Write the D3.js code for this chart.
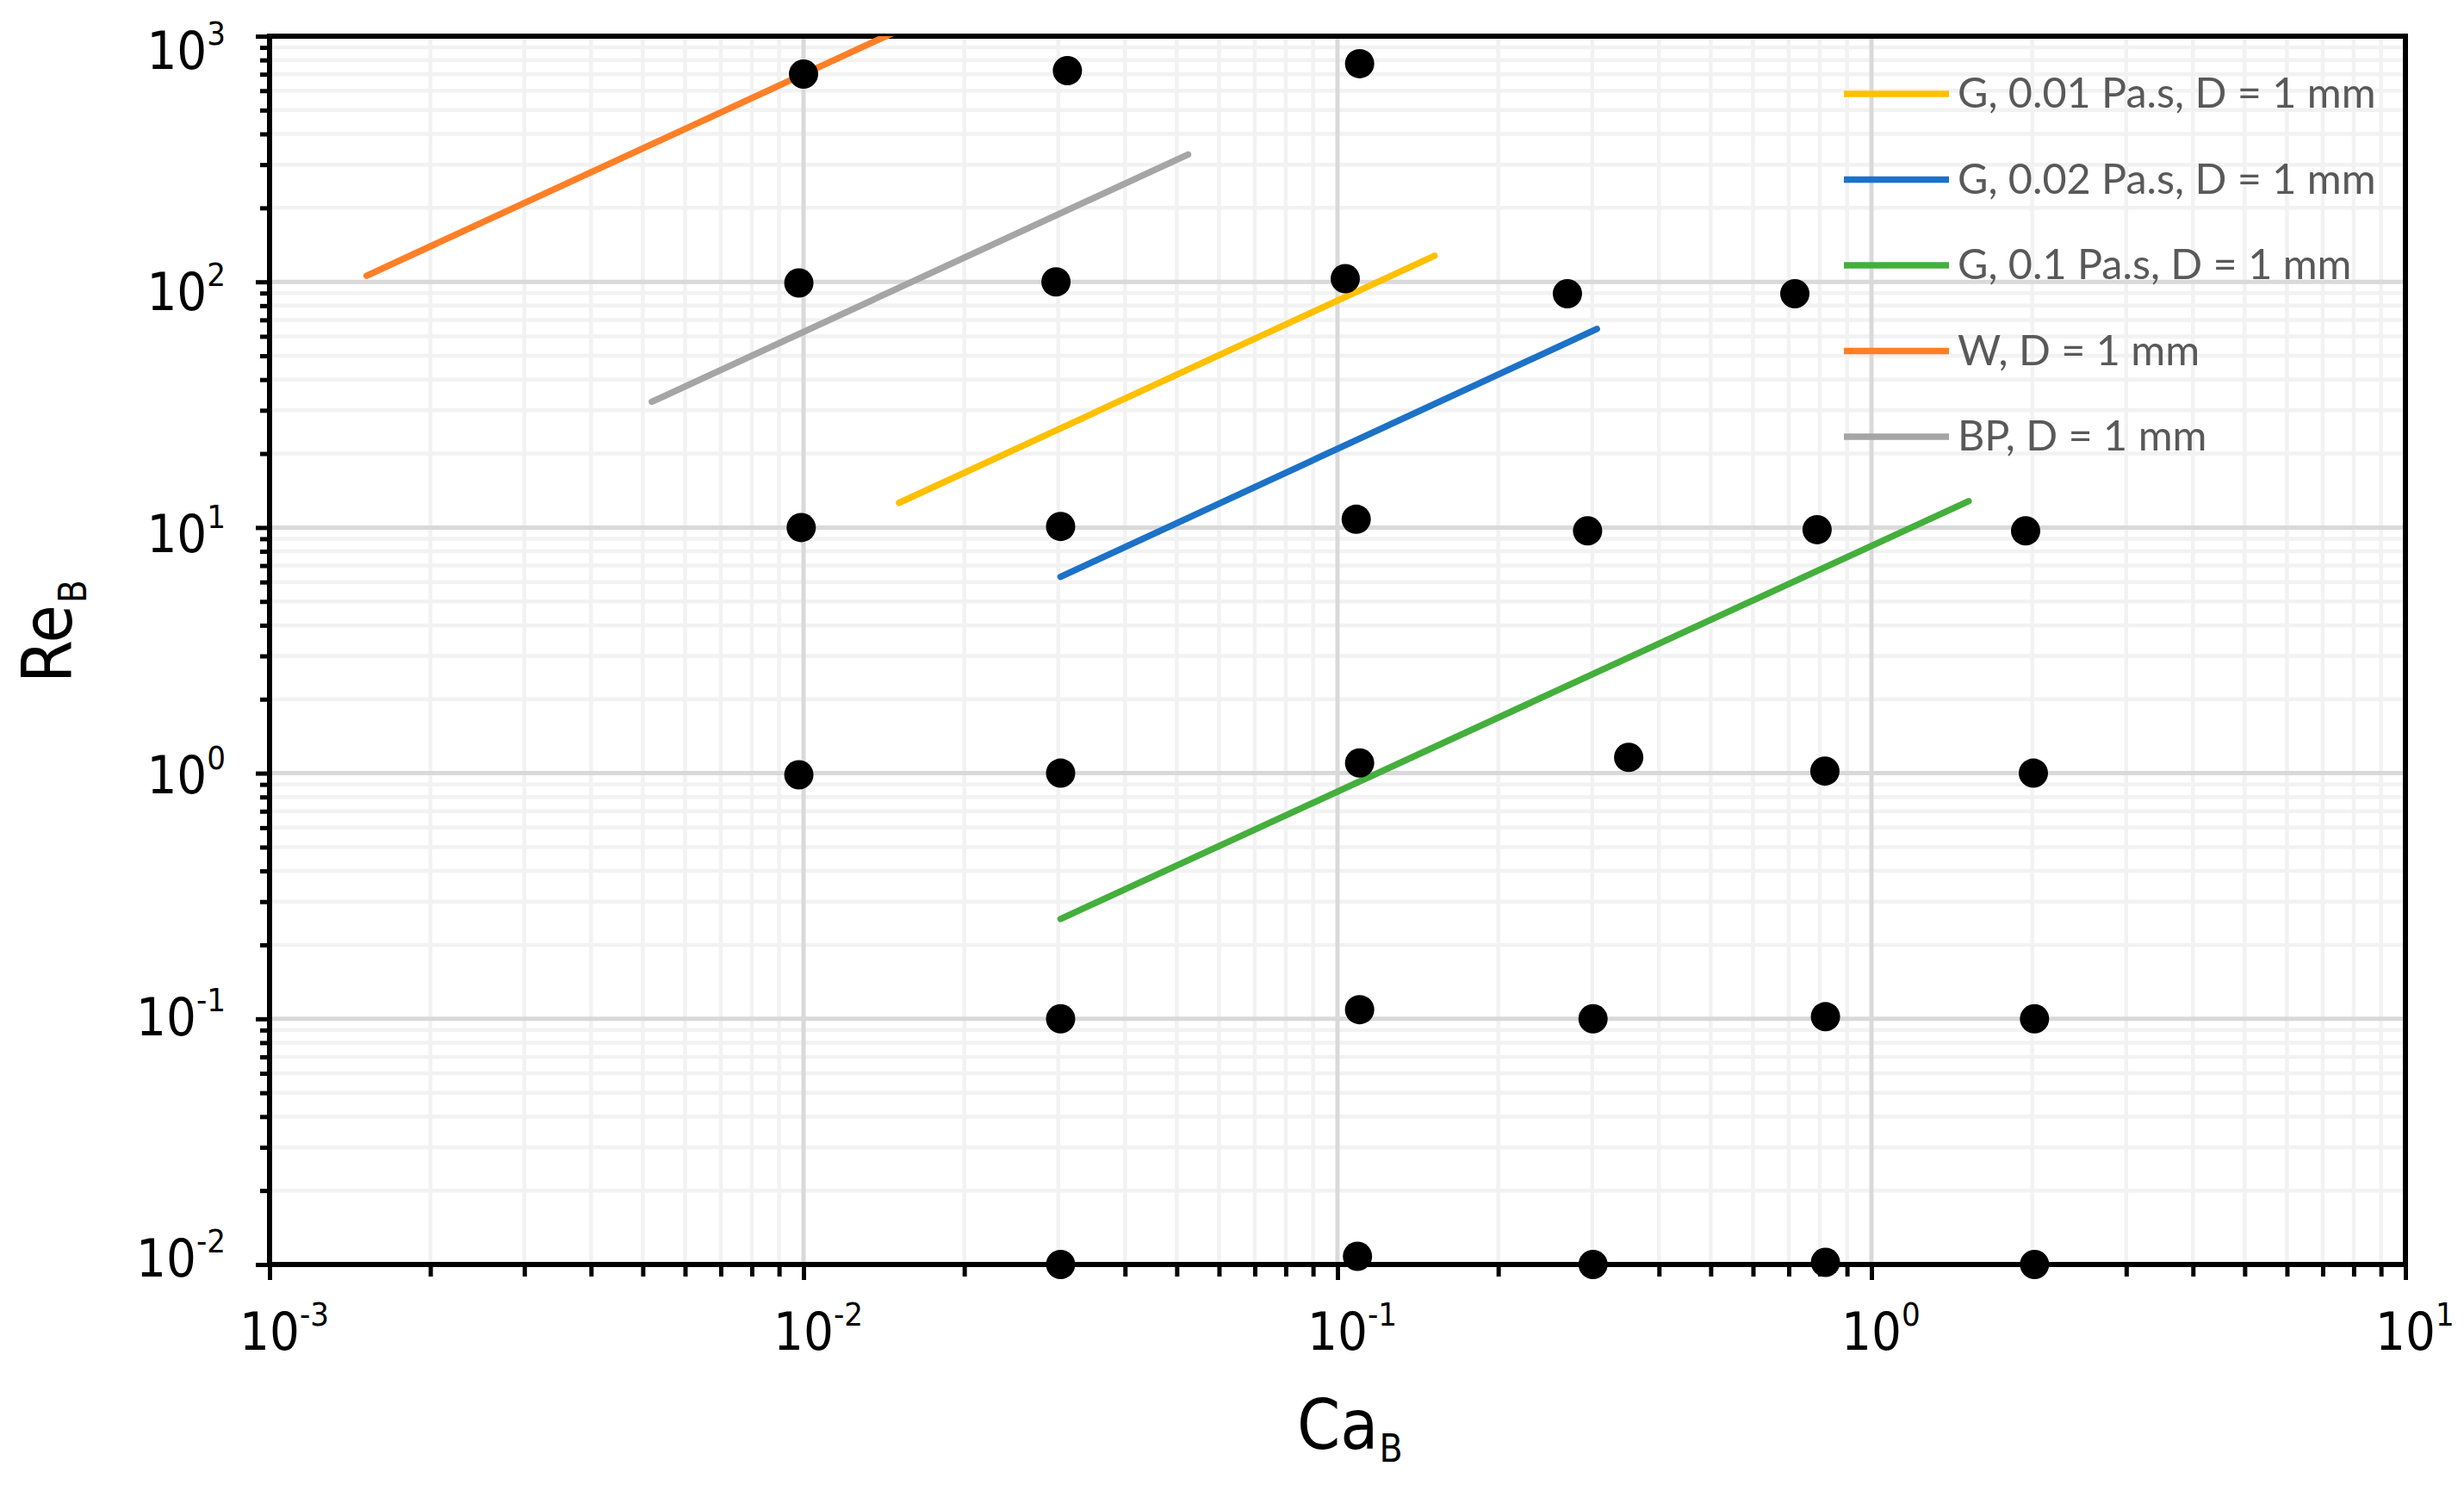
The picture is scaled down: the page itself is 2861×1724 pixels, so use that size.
<!DOCTYPE html>
<html>
<head>
<meta charset="utf-8">
<script src="https://cdn.jsdelivr.net/npm/d3@7"></script>
<style>
  body { margin: 0; background: #fff; }
</style>
</head>
<body>
<div id="chart"></div>
<script>
// Data
const pointCa = [0.0100, 0.0098, 0.0099, 0.0098,
                 0.0312, 0.0297, 0.0303, 0.0303, 0.0303, 0.0303,
                 0.110, 0.1034, 0.1084, 0.110, 0.110, 0.109,
                 0.2695, 0.294, 0.351, 0.301, 0.301,
                 0.7186, 0.791, 0.818, 0.82, 0.82,
                 1.944, 2.01, 2.02, 2.02]
const pointRe = [701, 99, 10, 0.985,
                 724, 100, 10.1, 1.0, 0.1, 0.01,
                 773, 103, 10.8, 1.10, 0.109, 0.0108,
                 89.4, 9.7, 1.16, 0.1, 0.01,
                 89.4, 9.8, 1.02, 0.102, 0.0102,
                 9.7, 1.0, 0.1, 0.01]

const seriesNames = ["G, 0.01 Pa.s, D = 1 mm", "G, 0.02 Pa.s, D = 1 mm", "G, 0.1 Pa.s, D = 1 mm", "W, D = 1 mm", "BP, D = 1 mm"]
const seriesColors = ["#FFC000", "#1C72C7", "#44AF3C", "#FF7F27", "#A5A5A5"]
// start / end of each straight line
const seriesCa = [[0.0151, 0.152], [0.0303, 0.306], [0.0303, 1.52], [0.00152, 0.0152], [0.0052, 0.0525]]
const seriesRe = [[12.6, 127.7], [6.3, 64.3], [0.255, 12.8], [105.9, 1065], [32.5, 330]]

const xTicks = [1e-3, 1e-2, 1e-1, 1, 10]
const xTickExp = ["-3", "-2", "-1", "0", "1"]
const yTicks = [1e-2, 1e-1, 1, 10, 100, 1000]
const yTickExp = ["-2", "-1", "0", "1", "2", "3"]

function generateChart() {
  let width = 2861
  let height = 1724
  let margin = ({top: 42, right: 68, bottom: 256, left: 313})

  let x = d3.scaleLog().domain([1e-3, 10]).range([margin.left, width - margin.right])
  let y = d3.scaleLog().domain([1e-2, 1e3]).range([height - margin.bottom, margin.top])

  // minor values 2..9 in each decade
  let minors = ticks => d3.range(ticks.length - 1).flatMap(i => d3.range(2, 10).map(m => m * ticks[i]))
  let xMinor = minors(xTicks)
  let yMinor = minors(yTicks)

  const svg = d3.select("#chart").append("svg")
    .attr("width", width)
    .attr("height", height)
    .attr("viewBox", [0, 0, width, height])
    .style("background", "white")

  svg.append("defs").append("clipPath").attr("id", "plot")
    .append("rect")
    .attr("x", margin.left).attr("y", margin.top)
    .attr("width", width - margin.left - margin.right)
    .attr("height", height - margin.top - margin.bottom)

  // grid
  const grid = svg.append("g")
  grid.selectAll(".vminor").data(xMinor).join("line")
    .attr("x1", d => x(d)).attr("x2", d => x(d))
    .attr("y1", margin.top).attr("y2", height - margin.bottom)
    .attr("stroke", "#f2f2f2").attr("stroke-width", 4.5)
  grid.selectAll(".hminor").data(yMinor).join("line")
    .attr("y1", d => y(d)).attr("y2", d => y(d))
    .attr("x1", margin.left).attr("x2", width - margin.right)
    .attr("stroke", "#f2f2f2").attr("stroke-width", 4.5)
  grid.selectAll(".vmajor").data(xTicks).join("line")
    .attr("x1", d => x(d)).attr("x2", d => x(d))
    .attr("y1", margin.top).attr("y2", height - margin.bottom)
    .attr("stroke", "#d9d9d9").attr("stroke-width", 5)
  grid.selectAll(".hmajor").data(yTicks).join("line")
    .attr("y1", d => y(d)).attr("y2", d => y(d))
    .attr("x1", margin.left).attr("x2", width - margin.right)
    .attr("stroke", "#d9d9d9").attr("stroke-width", 5)

  // axes
  let xAxis = g => g
    .attr("transform", `translate(0,${height - margin.bottom})`)
    .call(d3.axisBottom(x).tickValues(xTicks).tickSize(18).tickFormat(""))
    .call(g => g.append("g").call(d3.axisBottom(x).tickValues(xMinor).tickSize(14).tickFormat("")))
    .call(g => g.selectAll(".domain").remove())
    .call(g => g.selectAll(".tick line").attr("stroke", "#000").attr("stroke-width", 5))
  let yAxis = g => g
    .attr("transform", `translate(${margin.left},0)`)
    .call(d3.axisLeft(y).tickValues(yTicks).tickSize(16).tickFormat(""))
    .call(g => g.append("g").call(d3.axisLeft(y).tickValues(yMinor).tickSize(11).tickFormat("")))
    .call(g => g.selectAll(".domain").remove())
    .call(g => g.selectAll(".tick line").attr("stroke", "#000").attr("stroke-width", 5))

  svg.append("g").call(xAxis)
  svg.append("g").call(yAxis)

  // frame
  svg.append("rect")
    .attr("x", margin.left).attr("y", margin.top)
    .attr("width", width - margin.left - margin.right)
    .attr("height", height - margin.top - margin.bottom)
    .attr("fill", "none").attr("stroke", "#000").attr("stroke-width", 6)

  // tick labels
  const labelFont = "'DejaVu Sans Condensed', 'DejaVu Sans', sans-serif"
  svg.append("g").selectAll("text").data(xTicks).join("text")
    .attr("font-family", labelFont).attr("font-size", 61).attr("fill", "#000")
    .attr("y", height - margin.bottom + 99)
    .each(function(d, i) {
      const t = d3.select(this)
      const base = t.append("tspan").text("10")
      t.append("tspan").attr("font-size", 38).attr("dy", -28).text(xTickExp[i])
      t.attr("x", x(d) - base.node().getComputedTextLength() / 2)
    })
  svg.append("g").selectAll("text").data(yTicks).join("text")
    .attr("font-family", labelFont).attr("font-size", 61).attr("fill", "#000")
    .attr("text-anchor", "end")
    .attr("x", margin.left - 51)
    .attr("y", d => y(d) + 14 + 4.8 * (Math.log10(d) + 2))
    .each(function(d, i) {
      const t = d3.select(this)
      t.append("tspan").text("10")
      t.append("tspan").attr("font-size", 38).attr("dy", -28).text(yTickExp[i])
    })

  // axis titles
  const xt = svg.append("text")
    .attr("font-family", labelFont).attr("font-size", 80).attr("fill", "#000")
    .attr("x", 1506).attr("y", 1682)
  xt.append("tspan").text("Ca")
  xt.append("tspan").attr("font-size", 44).attr("dx", 1).attr("dy", 15).text("B")

  const yt = svg.append("text")
    .attr("font-family", labelFont).attr("font-size", 80).attr("fill", "#000")
    .attr("transform", "translate(83,793) rotate(-90)")
  yt.append("tspan").text("Re")
  yt.append("tspan").attr("font-size", 44).attr("dx", 2).attr("dy", 17).text("B")

  // series lines
  const line = d3.line().x(d => x(d[0])).y(d => y(d[1]))
  svg.append("g").attr("clip-path", "url(#plot)")
    .selectAll("path")
    .data(seriesNames.map((name, i) => seriesCa[i].map((c, j) => [c, seriesRe[i][j]])))
    .join("path")
    .attr("d", line)
    .attr("fill", "none")
    .attr("stroke", (d, i) => seriesColors[i])
    .attr("stroke-width", 7.5)
    .attr("stroke-linecap", "round")

  // data points
  svg.append("g")
    .selectAll("circle")
    .data(pointCa.map((c, i) => [c, pointRe[i]]))
    .join("circle")
    .attr("cx", d => x(d[0]))
    .attr("cy", d => y(d[1]))
    .attr("r", 17)
    .attr("fill", "#000")

  // legend
  const legend = svg.append("g")
    .selectAll("g")
    .data(seriesNames)
    .join("g")
    .attr("transform", (d, i) => `translate(2141,${109 + i * 99.5})`)
  legend.append("line")
    .attr("x1", 0).attr("x2", 122)
    .attr("stroke", (d, i) => seriesColors[i])
    .attr("stroke-width", 7.5)
  legend.append("text")
    .attr("x", 132).attr("y", 16)
    .attr("font-family", "Lato, 'Liberation Sans', sans-serif")
    .attr("font-size", 48.5)
    .attr("fill", "#595959")
    .text(d => d)

  return svg.node()
}

generateChart()
</script>
</body>
</html>
